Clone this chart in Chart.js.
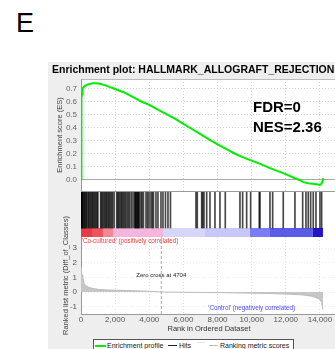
<!DOCTYPE html>
<html><head><meta charset="utf-8">
<script src="https://cdn.jsdelivr.net/npm/chart.js@4.4.0/dist/chart.umd.min.js"></script>
<style>
html,body{margin:0;padding:0;width:335px;height:349px;overflow:hidden;background:#fff;font-family:"Liberation Sans",Arial,sans-serif;}
#panel{position:absolute;left:48px;top:62px;width:300px;height:300px;background:#eeeeee;}
canvas{position:absolute;}
#bigE{position:absolute;left:16px;top:9.5px;font-size:27px;line-height:27px;color:#000;}
#stats{position:absolute;left:253px;top:97px;font-weight:bold;font-size:15px;line-height:19.5px;color:#000;}
#legend{position:absolute;left:93px;top:339px;width:199px;height:14px;border:1px solid #555;background:#fff;}
#legend .ln{position:absolute;top:5px;height:1px;}
#legend .tx{position:absolute;top:2px;font-size:7px;line-height:7px;color:#222;white-space:nowrap;}
</style></head>
<body>
<div id="bigE">E</div>
<div id="panel"></div>
<canvas id="es" width="289" height="130" style="left:48px;top:62px"></canvas>
<canvas id="hits" width="289" height="45" style="left:48px;top:192px"></canvas>
<canvas id="rank" width="289" height="139" style="left:48px;top:200px"></canvas>
<div id="stats">FDR=0<br>NES=2.36</div>
<div id="legend">
  <span class="ln" style="left:1px;width:11px;height:2px;background:#00ee00"></span>
  <span class="tx" style="left:13px">Enrichment profile</span>
  <span class="ln" style="left:74px;width:9px;background:#222"></span>
  <span class="tx" style="left:85px">Hits</span>
  <span class="ln" style="left:103px;top:2px;width:8px;background:#e4e4e4"></span>
  <span class="ln" style="left:115px;width:9px;background:#bbb"></span>
  <span class="tx" style="left:126px">Ranking metric scores</span>
</div>
<script>
const X_MAX = 15000;
const xTickValues = [0, 2000, 4000, 6000, 8000, 10000, 12000, 14000];
const esTickValues = [0, 0.1, 0.2, 0.3, 0.4, 0.5, 0.6, 0.7];
const rmTickValues = [-1, 0, 1, 2, 3];

const esRanks = [0,10,25,40,60,80,110,150,200,300,400,550,700,900,1100,1400,1700,2000,2500,3000,3500,4000,4500,5000,5500,6000,6500,7000,7500,8000,8500,9000,9500,10000,10500,11000,11500,12000,12500,12800,13000,13300,13600,13900,14000,14100,14150,14180];
const esScores = [0,0.25,0.5,0.63,0.66,0.69,0.705,0.715,0.72,0.73,0.735,0.74,0.745,0.745,0.74,0.73,0.715,0.70,0.675,0.64,0.605,0.577,0.54,0.505,0.47,0.43,0.39,0.35,0.31,0.27,0.235,0.2,0.17,0.145,0.12,0.09,0.065,0.04,0.01,-0.005,-0.02,-0.03,-0.035,-0.04,-0.045,-0.03,-0.02,0.01];

const hitRanks = [0,15,40,70,110,160,200,250,300,350,420,470,530,590,650,700,760,820,880,940,990,
1150,1200,1260,1330,1400,1460,1520,1590,1650,1720,1790,1850,1940,
2090,2150,2210,2280,2350,2410,2480,2550,2620,2700,2780,2850,2950,3050,
3150,3180,3220,3260,3300,3340,3380,3420,
3515,3580,3660,3808,3900,3985,4100,4180,4246,4393,4510,4686,4803,4950,5096,5243,
6737,6813,7071,7130,7206,7364,7557,7850,8143,8454,9314,9472,9706,9941,10445,10486,11072,11230,11851,12536,12988,13181,13316,13456,13608,13767,14001,14101];

const barStarts = [0, 644, 1289, 1875, 4804, 7264, 9900, 11072, 13591];
const barEnds   = [644, 1289, 1875, 4804, 7264, 9900, 11072, 13591, 14177];
const barColors = ['#e63c46', '#ec5560', '#f08898', '#f5b6de', '#d6d6fb', '#c8c8f8', '#7d7df3', '#5b5be9', '#2414c4'];

const rmRanks  = [0,30,60,100,180,250,350,500,700,1000,1500,2000,3000,4000,4704,6000,8000,9500,11000,12000,13000,13600,14000,14100,14160,14180];
const rmValues = [1.65,1.35,1.15,1.0,0.6,0.48,0.38,0.3,0.24,0.18,0.14,0.12,0.09,0.05,0,-0.02,-0.04,-0.07,-0.1,-0.14,-0.2,-0.3,-0.5,-0.7,-1.15,-1.2];
const zeroCross = 4704;

const FONT = '"Liberation Sans", Arial, sans-serif';
Chart.defaults.font.family = FONT;
Chart.defaults.animation = false;

const whiteArea = {id:'whiteArea', beforeDraw(c){const a=c.chartArea;const x=c.ctx;x.save();x.fillStyle='#fff';x.fillRect(a.left,a.top,a.right-a.left,a.bottom-a.top);x.restore();}};
const setTicks = vals => s => { s.ticks = vals.map(v => ({value: v})); };
const dotted = c => (c.tick && c.tick.value === 0 && c.scale.axis === 'y') ? [] : [1, 2];

new Chart(document.getElementById('es'), {
  type: 'line',
  data: {datasets: [{data: esRanks.map((r,i)=>({x:r, y:esScores[i]})), borderColor:'#00ee00', borderWidth:2, pointRadius:0, tension:0, fill:false}]},
  options: {
    responsive:false, devicePixelRatio:1, animation:false,
    layout:{padding:{left:4, top:0, right:0, bottom:0}},
    plugins:{legend:{display:false}, tooltip:{enabled:false},
      title:{display:true, text:'Enrichment plot: HALLMARK_ALLOGRAFT_REJECTION', align:'start', color:'#000', font:{size:10.5, weight:'bold'}, padding:{top:1.5, bottom:2.9}}},
    scales:{
      x:{type:'linear', min:0, max:X_MAX, offset:false, ticks:{display:false}, grid:{color:'#d4d4d4', drawTicks:false}, border:{display:true, color:'#999', dash:[1,2]},
         afterBuildTicks:setTicks(xTickValues), afterFit:s=>{s.height=1; s.paddingLeft=0; s.paddingRight=0;}},
      xTop:{type:'linear', position:'top', min:0, max:X_MAX, ticks:{display:false}, grid:{display:false, drawTicks:false}, border:{display:true, color:'#bbb'}, afterFit:s=>{s.height=0;}},
      y:{min:-0.0907, max:0.7775, ticks:{color:'#666', font:{size:8}, padding:4, callback:v=>v.toFixed(1)},
         grid:{color:c=>(c.tick && c.tick.value===0)?'#a8a8a8':'#d4d4d4', drawTicks:false}, border:{color:'#999', dash:dotted},
         title:{display:true, text:'Enrichment score (ES)', color:'#444', font:{size:7.5}, padding:{top:3.5, bottom:0}},
         afterBuildTicks:setTicks(esTickValues), afterFit:s=>{s.width=29; s.paddingTop=0; s.paddingBottom=0;}}
    }
  },
  plugins:[whiteArea]
});

new Chart(document.getElementById('hits'), {
  type: 'bar',
  data: {datasets: [
    {type:'bar', data: hitRanks.map(r=>({x:r, y:[0,4]})), backgroundColor:'rgba(0,0,0,0.72)', barThickness:1, grouped:false, order:0},
    ...barStarts.map((s,i)=>({type:'line', data:[{x:s,y:-1},{x:barEnds[i],y:-1}], borderWidth:0, borderColor:'rgba(0,0,0,0)', pointRadius:0, fill:{value:0}, backgroundColor:barColors[i], order:1}))
  ]},
  options: {
    responsive:false, devicePixelRatio:1, animation:false,
    layout:{padding:0},
    plugins:{legend:{display:false}, tooltip:{enabled:false}},
    scales:{
      x:{type:'linear', min:0, max:X_MAX, offset:false, display:false, grid:{offset:false}},
      y:{min:-1, max:4, ticks:{display:false}, grid:{display:false, drawTicks:false}, border:{display:true, color:'#999'}, afterFit:s=>{s.width=33; s.paddingTop=0; s.paddingBottom=0;}}
    }
  },
  plugins:[whiteArea]
});

const rankText = {
  id:'rankText',
  afterDatasetsDraw(chart){
    const {ctx, scales:{x, y}, chartArea} = chart;
    ctx.save();
    ctx.textBaseline = 'middle';
    ctx.font = '6.3px ' + FONT;
    ctx.fillStyle = '#ff3a3a'; ctx.textAlign = 'left';
    ctx.fillText("'Co-cultured' (positively correlated)", x.getPixelForValue(40), y.getPixelForValue(3.48));
    ctx.fillStyle = '#4848ff'; ctx.textAlign = 'center';
    ctx.fillText("'Control' (negatively correlated)", x.getPixelForValue(10000), y.getPixelForValue(-1.11));
    ctx.font = '6px ' + FONT;
    ctx.fillStyle = '#222';
    ctx.fillText('Zero cross at ' + zeroCross, x.getPixelForValue(zeroCross), y.getPixelForValue(1.11));
    ctx.font = '7.5px ' + FONT;
    ctx.fillStyle = '#444';
    ctx.translate(18, (chartArea.top + chartArea.bottom) / 2);
    ctx.rotate(-Math.PI / 2);
    ctx.fillText('Ranked list metric (Diff_of_Classes)', 0, 0);
    ctx.restore();
  }
};

new Chart(document.getElementById('rank'), {
  type: 'line',
  data: {datasets: [
    {data: rmRanks.map((r,i)=>({x:r, y:rmValues[i]})), borderColor:'#bdbdbd', borderWidth:1, backgroundColor:'#c6c6c6', fill:'origin', pointRadius:0, tension:0},
    {data: [{x:zeroCross, y:-1.5}, {x:zeroCross, y:3.75}], borderColor:'#aaaaaa', borderWidth:1, borderDash:[3,2], pointRadius:0, fill:false}
  ]},
  options: {
    responsive:false, devicePixelRatio:1, animation:false,
    layout:{padding:{top:37, left:0, right:0, bottom:0}},
    plugins:{legend:{display:false}, tooltip:{enabled:false}},
    scales:{
      x:{type:'linear', min:0, max:X_MAX, offset:false,
         ticks:{color:'#555', font:{size:8}, padding:1, maxRotation:0, autoSkip:false, callback:v=>v.toLocaleString('en-US')},
         grid:{color:'#e0e0e0', drawTicks:false}, border:{color:'#999', dash:[1,2]},
         title:{display:true, text:'Rank in Ordered Dataset', color:'#333', font:{size:7.5}, padding:{top:0, bottom:5.5}},
         afterBuildTicks:setTicks(xTickValues), afterFit:s=>{s.height=25; s.paddingLeft=0; s.paddingRight=0;}},
      y:{min:-1.5, max:3.75, ticks:{color:'#555', font:{size:8}, padding:4},
         grid:{color:'#ececec', drawTicks:false}, border:{color:'#999', dash:[1,2]},
         afterBuildTicks:setTicks(rmTickValues), afterFit:s=>{s.width=33; s.paddingTop=0; s.paddingBottom=0;}}
    }
  },
  plugins:[whiteArea, rankText]
});
</script>
</body></html>
